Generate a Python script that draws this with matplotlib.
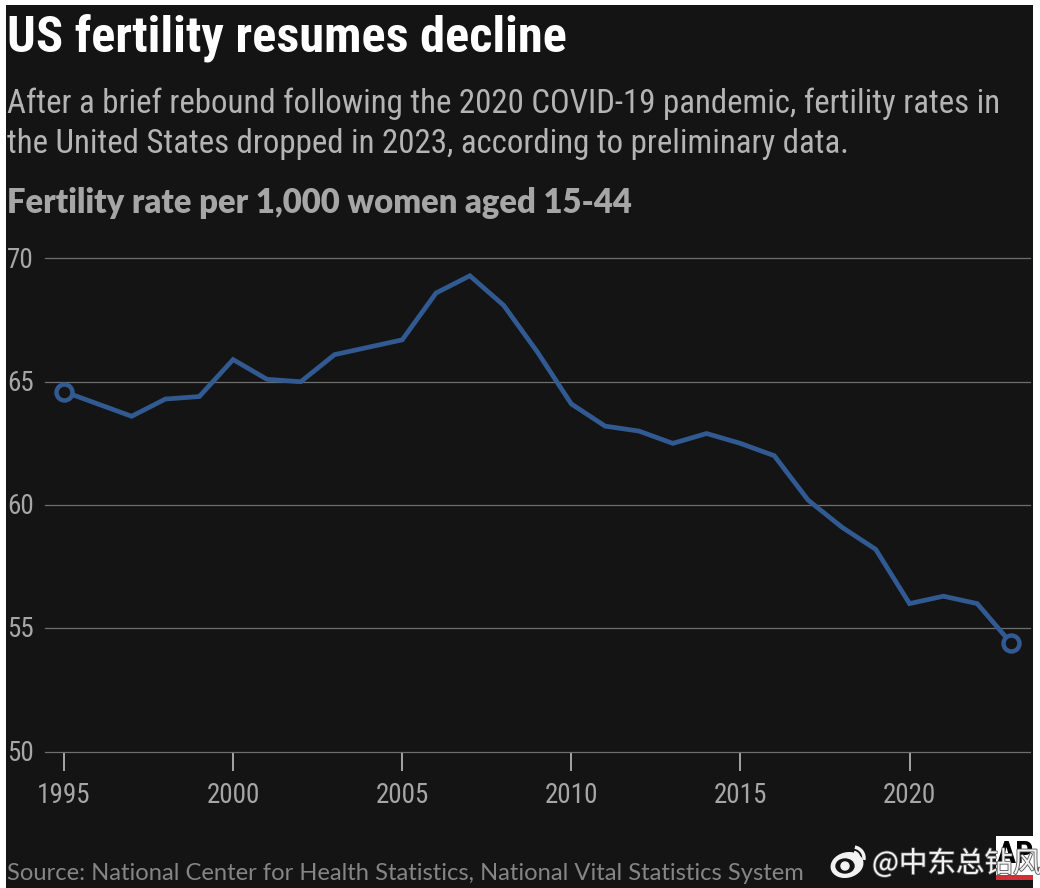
import matplotlib
matplotlib.use('Agg')
import matplotlib.pyplot as plt
import matplotlib.patheffects as pe
from matplotlib.patches import Rectangle, Ellipse, Arc

years = list(range(1995, 2024))
rate = [64.6, 64.1, 63.6, 64.3, 64.4, 65.9, 65.1, 65.0, 66.1, 66.4,
        66.7, 68.6, 69.3, 68.1, 66.2, 64.1, 63.2, 63.0, 62.5, 62.9,
        62.5, 62.0, 60.2, 59.1, 58.2, 56.0, 56.3, 56.0, 54.4]
year_ticks = [1995, 2000, 2005, 2010, 2015, 2020]
rate_ticks = [50, 55, 60, 65, 70]

W, H = 1040, 888
BG = '#141414'
GREY = '#a6a6a6'
LINE = '#315a92'
NARROW = ['Roboto Condensed', 'DejaVu Sans']


def fx(x):
    return x / W


def fy(y):
    return 1 - y / H


fig = plt.figure(figsize=(W / 100, H / 100), dpi=100, facecolor='white')
fig.patches.append(Rectangle((fx(6), 0), fx(1027), fy(5), transform=fig.transFigure,
                             facecolor=BG, edgecolor='none', zorder=-2))

# plot area, from the 70 gridline to the 50 gridline
ax = fig.add_axes([fx(45), fy(751.5), fx(985), (751.5 - 258.5) / H])
ax.patch.set_alpha(0)
pad = 19 / 33.82
ax.set_xlim(1995 - pad, 2023 + pad)
ax.set_ylim(50, 70)
for s in ax.spines.values():
    s.set_visible(False)

ax.set_yticks(rate_ticks)
ax.set_yticklabels([])
ax.set_xticks(year_ticks)
ax.set_xticklabels([])
ax.tick_params(axis='y', length=0)
ax.tick_params(axis='x', length=14, width=1.2, color='#bdbdbd', direction='out')
ax.grid(axis='y', color='#6e6e6e', lw=0.9)
ax.set_axisbelow(True)
for g in ax.get_ygridlines():
    g.set_clip_on(False)

ax.plot(years, rate, color=LINE, lw=3.4, solid_joinstyle='miter', clip_on=False)
ax.plot([years[0], years[-1]], [rate[0], rate[-1]], ls='none', marker='o', ms=11.5,
        mfc=BG, mec=LINE, mew=3.2, clip_on=False)

# tick labels sit in their own positions, y labels left of the gridlines
for v in rate_ticks:
    fig.text(fx(7), fy(260 + (70 - v) * 24.65), str(v), color=GREY, fontsize=19.5,
             family=NARROW, va='center', ha='left')
for y in year_ticks:
    fig.text(fx(33.82 * (y - 1995) + 64), fy(795.5), str(y), color=GREY, fontsize=19.5,
             family=NARROW, ha='center', va='center')

# titles
fig.text(fx(7), fy(38), 'US fertility resumes decline', color='white', fontsize=36.3,
         fontweight='bold', family=NARROW, va='center')
fig.text(fx(7), fy(103.5), 'After a brief rebound following the 2020 COVID-19 pandemic, fertility rates in',
         color='#b4b4b4', fontsize=23.7, family=NARROW, va='center')
fig.text(fx(7), fy(143.5), 'the United States dropped in 2023, according to preliminary data.',
         color='#b4b4b4', fontsize=23.7, family=NARROW, va='center')
fig.text(fx(7), fy(203), 'Fertility rate per 1,000 women aged 15-44', color=GREY, fontsize=23.6,
         fontweight=800, family=['Lato', 'DejaVu Sans'], va='center')
fig.text(fx(7), fy(873), 'Source: National Center for Health Statistics, National Vital Statistics System',
         color='#858585', fontsize=17.1, family=['Lato', 'DejaVu Sans'], va='center')

# AP logo
fig.patches.append(Rectangle((fx(996), fy(880)), fx(37), 44 / H, transform=fig.transFigure,
                             facecolor='white', edgecolor='none', zorder=-1))
fig.patches.append(Rectangle((fx(996), fy(880)), fx(37), 5 / H, transform=fig.transFigure,
                             facecolor='#d0312d', edgecolor='none', zorder=-1))
fig.text(fx(1015), fy(854), 'AP', color='black', fontsize=23, fontweight='bold',
         family=NARROW, ha='center', va='center')

# weibo watermark goes over everything
over = fig.add_axes([0, 0, 1, 1], facecolor='none', zorder=5)
over.set_xlim(0, W)
over.set_ylim(H, 0)
over.axis('off')
over.add_patch(Ellipse((847, 865), 32, 24, angle=-15, color='#f2f2f2'))
over.add_patch(Ellipse((845, 866), 18, 14, color=BG))
over.add_patch(Ellipse((845, 866), 8, 8, color='#f2f2f2'))
over.add_patch(Arc((853, 858), 22, 22, theta1=-80, theta2=10, color='#f2f2f2', lw=2.5))
over.add_patch(Arc((853, 858), 12, 12, theta1=-80, theta2=10, color='#f2f2f2', lw=2))
mark = over.text(872, 864, '@中东总钻风', color='#f2f2f2', fontsize=20.5,
                 family=['Noto Sans CJK SC', 'DejaVu Sans'], va='center', ha='left')
mark.set_path_effects([pe.withStroke(linewidth=1.2, foreground='#555555')])

fig.savefig('out.png', dpi=100, facecolor='white')
